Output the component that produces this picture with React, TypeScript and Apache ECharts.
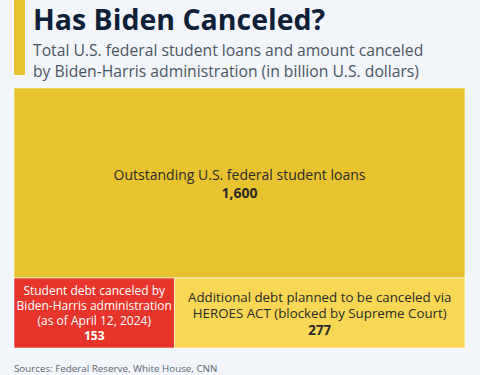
import React, { useEffect, useRef } from "react";
import * as echarts from "echarts";

const titleText = "Has Biden Canceled?";
const subtitleLines = [
  "Total U.S. federal student loans and amount canceled",
  "by Biden-Harris administration (in billion U.S. dollars)",
];
const sourceText = "Sources: Federal Reserve, White House, CNN";

// rows: 0 = top row, 1 = bottom row
const categories = [
  "Outstanding U.S. federal student loans",
  "Student debt canceled by\nBiden-Harris administration\n(as of April 12, 2024)",
  "Additional debt planned to be canceled via\nHEROES ACT (blocked by Supreme Court)",
];
const values = [1600, 153, 277];
const rows = [0, 1, 1];
const valueLabels = ["1,600", "153", "277"];

const colors = ["#e8c32f", "#e8352c", "#f7d753"];
const textColors = ["#2a2a2a", "#ffffff", "#2a2a2a"];
const fontSizes = [14, 12, 13.3];
const lineHeights = [18, 15, 16.5];

const BOX = { left: 14, top: 88, right: 15, bottom: 27 };
const MIN_ROW_H = 70;
const FONT = '"Open Sans", "Noto Sans", sans-serif';

export default function App() {
  const ref = useRef<HTMLDivElement>(null);
  useEffect(() => {
    if (!ref.current) return;
    const chart = echarts.init(ref.current, undefined, { renderer: "svg" });

    const rowSum = (r: number) =>
      values.reduce((s, v, i) => (rows[i] === r ? s + v : s), 0);
    const total = rowSum(0) + rowSum(1);

    const renderItem = (params: any, api: any) => {
      const idx = params.dataIndex;
      const W = api.getWidth() - BOX.left - BOX.right;
      const H = api.getHeight() - BOX.top - BOX.bottom;
      const bottomH = Math.max((H * rowSum(1)) / total, MIN_ROW_H);
      const rowY = [BOX.top, BOX.top + H - bottomH];
      const rowH = [H - bottomH, bottomH];
      const r = rows[idx];
      const sum = rowSum(r);
      let offset = 0;
      for (let i = 0; i < idx; i++) if (rows[i] === r) offset += values[i];
      const x = BOX.left + (W * offset) / sum;
      const w = (W * api.value(0)) / sum;
      const y = rowY[r];
      const h = rowH[r];
      const lines = categories[idx].split("\n");
      const txt = lines.map((l) => "{a|" + l + "}").join("\n") + "\n{b|" + valueLabels[idx] + "}";
      return {
        type: "group",
        children: [
          {
            type: "rect",
            shape: { x, y, width: w, height: h },
            style: { fill: colors[idx], stroke: "rgba(255,255,255,0.55)", lineWidth: 1 },
          },
          {
            type: "text",
            x: x + w / 2,
            y: y + h / 2,
            style: {
              text: txt,
              align: "center",
              verticalAlign: "middle",
              rich: {
                a: {
                  fontFamily: FONT,
                  fontSize: fontSizes[idx],
                  lineHeight: lineHeights[idx],
                  fill: textColors[idx],
                  align: "center",
                },
                b: {
                  fontFamily: FONT,
                  fontSize: fontSizes[idx],
                  lineHeight: lineHeights[idx],
                  fontWeight: "bold",
                  fill: textColors[idx],
                  align: "center",
                },
              },
            },
          },
        ],
      };
    };

    chart.setOption({
      animation: false,
      backgroundColor: "#f2f5f9",
      graphic: [
        { type: "rect", shape: { x: 14, y: 0, width: 11, height: 75 }, style: { fill: "#e8c32f" } },
        {
          type: "text",
          x: 33,
          y: 19,
          style: {
            text: titleText,
            fontFamily: FONT,
            fontSize: 28.5,
            fontWeight: "bold",
            fill: "#0e1f3a",
            verticalAlign: "middle",
          },
        },
        ...subtitleLines.map((t, i) => ({
          type: "text",
          x: 33,
          y: 50 + i * 21,
          style: {
            text: t,
            fontFamily: FONT,
            fontSize: 15.7,
            fill: "#4a5562",
            verticalAlign: "middle",
          },
        })),
        {
          type: "text",
          x: 14,
          y: 368,
          style: {
            text: sourceText,
            fontFamily: FONT,
            fontSize: 9.8,
            fill: "#5b6672",
            verticalAlign: "middle",
          },
        },
      ],
      series: [
        {
          type: "custom",
          coordinateSystem: "none",
          renderItem,
          data: values.map((v, i) => ({ value: [v], name: categories[i] })),
        },
      ],
    });
    return () => chart.dispose();
  }, []);
  return (
    <div
      ref={ref}
      style={{ position: "fixed", left: 0, top: 0, width: 480, height: 375 }}
    />
  );
}
